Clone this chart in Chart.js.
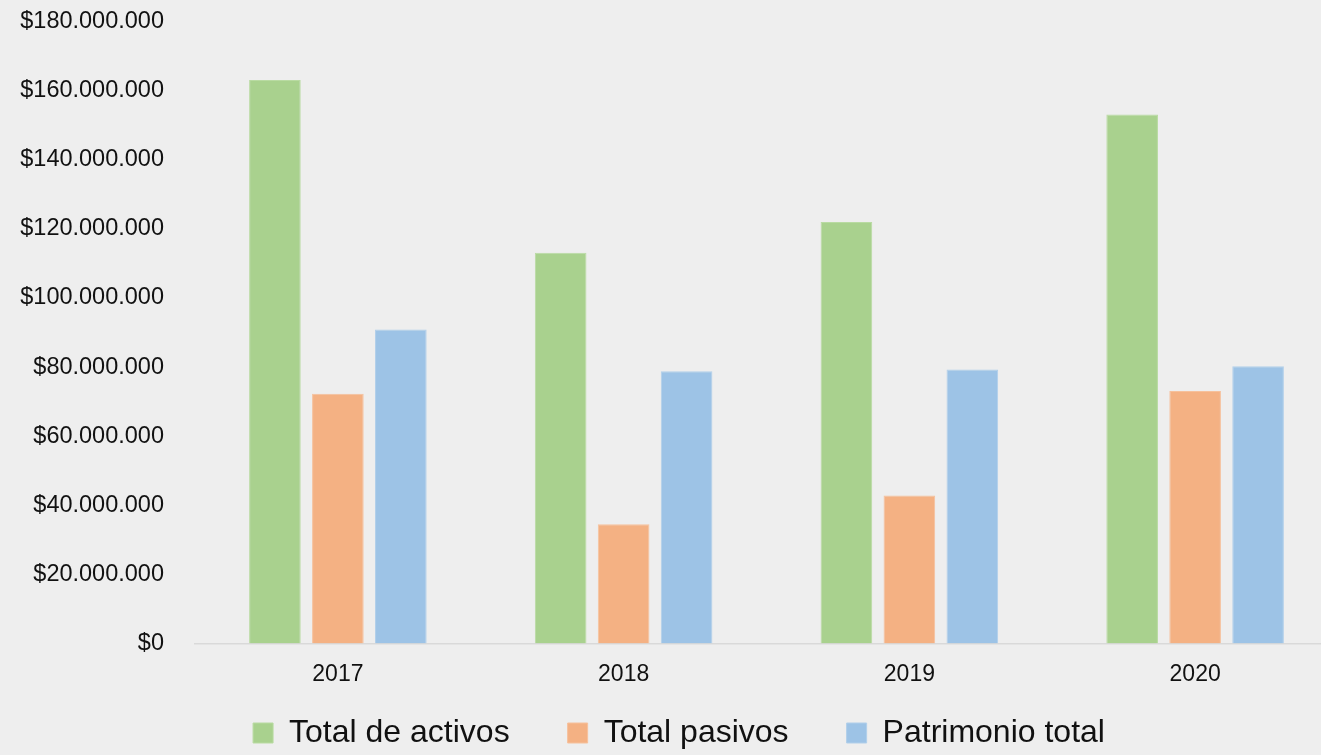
<!DOCTYPE html>
<html>
<head>
<meta charset="utf-8">
<script src="https://cdn.jsdelivr.net/npm/chart.js@4/dist/chart.umd.min.js"></script>
<style>
  html, body { margin: 0; padding: 0; background: #eeeeee; overflow: hidden; }
  #wrap { width: 1340px; height: 755px; position: relative; }
</style>
</head>
<body>
<div id="wrap"><canvas id="chart"></canvas></div>
<script>
// Chart data
const years = ['2017', '2018', '2019', '2020'];
const totalActivos = [163100000, 113100000, 122000000, 153100000];
const totalPasivos = [72300000, 34500000, 42800000, 73100000];
const patrimonioTotal = [90900000, 78800000, 79300000, 80200000];
const yTicks = [0, 20000000, 40000000, 60000000, 80000000, 100000000, 120000000, 140000000, 160000000, 180000000];

const fontFamily = "'Liberation Sans', Arial, sans-serif";

// Format like $160.000.000
function money(v) {
  return '$' + Math.round(v).toString().replace(/\B(?=(\d{3})+(?!\d))/g, '.');
}

// x labels sit in the space above the legend items, so give the axis room to draw them
const xLabelRoom = {
  id: 'xLabelRoom',
  afterLayout(chart) {
    const x = chart.scales.x;
    x.bottom = x.top + 60;
  }
};

const ctx = document.getElementById('chart').getContext('2d');
new Chart(ctx, {
  type: 'bar',
  data: {
    labels: years,
    datasets: [{
      label: 'Total de activos',
      data: totalActivos,
      backgroundColor: '#a9d18e',
      borderColor: '#b9dba2',
      borderWidth: 1
    }, {
      label: 'Total pasivos',
      data: totalPasivos,
      backgroundColor: '#f4b183',
      borderColor: '#f6c19c',
      borderWidth: 1
    }, {
      label: 'Patrimonio total',
      data: patrimonioTotal,
      backgroundColor: '#9dc3e6',
      borderColor: '#b1cfea',
      borderWidth: 1
    }]
  },
  options: {
    responsive: true,
    maintainAspectRatio: false,
    animation: false,
    categoryPercentage: 0.661,
    barPercentage: 0.82,
    layout: {
      padding: { left: 20, right: 2, top: 0, bottom: -4 }
    },
    plugins: {
      tooltip: { enabled: false },
      legend: {
        position: 'bottom',
        labels: {
          boxWidth: 20,
          boxHeight: 20,
          padding: 58,
          color: '#111',
          font: { family: fontFamily, size: 32 }
        }
      }
    },
    scales: {
      x: {
        grid: { display: false, drawTicks: false },
        border: { display: true, color: '#d9d9d9', width: 1.5 },
        ticks: {
          padding: 17,
          color: '#111',
          font: { family: fontFamily, size: 23 }
        },
        afterFit: (scale) => { scale.height = 15.5; }
      },
      y: {
        min: 0,
        max: 180000000,
        afterBuildTicks: (scale) => { scale.ticks = yTicks.map(v => ({ value: v })); },
        afterFit: (scale) => {
          scale.width = 175;
          scale.paddingTop = 21.5;
          scale.paddingBottom = 14;
        },
        grid: { display: false, drawTicks: false },
        border: { display: false },
        ticks: {
          padding: 31,
          color: '#111',
          font: { family: fontFamily, size: 23.5 },
          callback: (v) => money(v)
        }
      }
    }
  },
  plugins: [xLabelRoom]
});
</script>
</body>
</html>
